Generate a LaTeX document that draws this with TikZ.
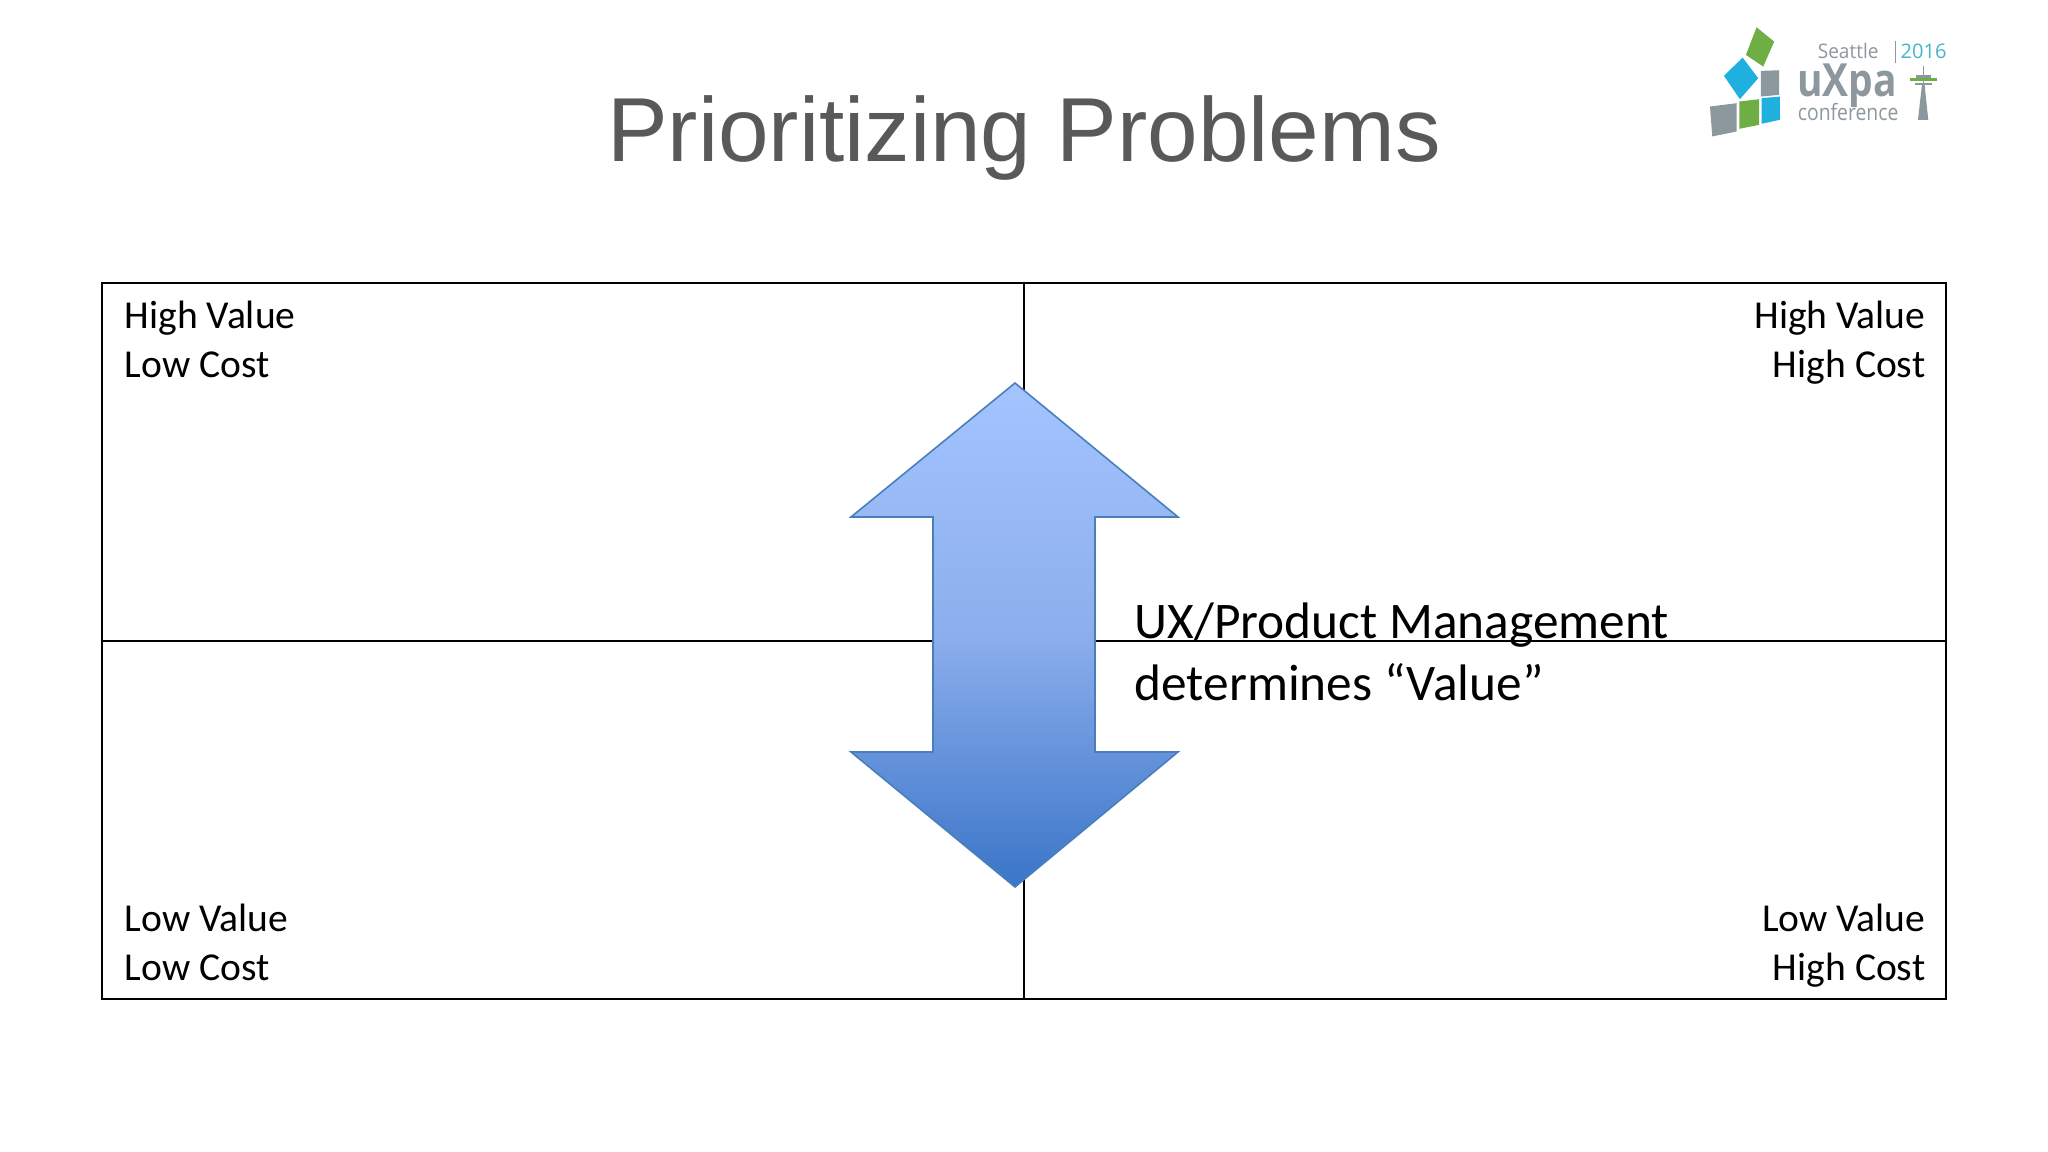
\documentclass[tikz,border=0pt]{standalone}
\usepackage{fontspec}
\setmainfont{Carlito}
\newfontfamily\titlefont{Liberation Sans}
\newfontfamily\logofont{Open Sans}
\usetikzlibrary{positioning}
\definecolor{titlegray}{HTML}{595959}
\definecolor{logogray}{HTML}{8C979E}
\definecolor{logogreen}{HTML}{6FAE45}
\definecolor{logoblue}{HTML}{1FB0E0}
\definecolor{logoteal}{HTML}{45B3CC}
\definecolor{arrowline}{HTML}{4A7EBB}
\definecolor{arrowtop}{HTML}{A3C4FF}
\definecolor{arrowmid}{HTML}{8CAEEC}
\definecolor{arrowbottom}{HTML}{3A75C8}
\begin{document}
\begin{tikzpicture}[x=0.01cm,y=-0.01cm,
 grid node/.style={draw,line width=0.7pt,inner sep=0pt,minimum width=18.43cm,minimum height=7.16cm},
 quad node/.style={font=\fontsize{11.25pt}{13.9pt}\selectfont,inner sep=0pt},
 logo text/.style={font=\logofont\fontsize{#1}{#1}\selectfont,inner sep=0pt,text=logogray}]
 \useasboundingbox (0,0) rectangle (2048,1152);
 \node (title) at (1024,138) {\titlefont\fontsize{25.85pt}{30pt}\selectfont\textcolor{titlegray}{Prioritizing Problems}};

 % quadrants
 \node[grid node] (grid) at (1024,641) {};
 \draw[line width=0.7pt] (grid.north) -- (grid.south);
 \draw[line width=0.7pt] (grid.west) -- (grid.east);
 \node[quad node,align=left,anchor=north west] (hvlc) at (124,300) {High Value\\Low Cost};
 \node[quad node,align=right,anchor=north east] (hvhc) at (1926,300) {High Value\\High Cost};
 \node[quad node,align=left,anchor=north west] (lvlc) at (124,903) {Low Value\\Low Cost};
 \node[quad node,align=right,anchor=north east] (lvhc) at (1926,903) {Low Value\\High Cost};

 % arrow
 \draw[arrowline,line width=0.45pt,top color=arrowtop,bottom color=arrowbottom,middle color=arrowmid]
   (1015,383) -- (1178,517) -- (1095,517) -- (1095,752) -- (1178,752) -- (1015,887)
   -- (851,752) -- (933,752) -- (933,517) -- (851,517) -- cycle;
 \node[anchor=north west,align=left,inner sep=0pt,font=\fontsize{14.6pt}{17.6pt}\selectfont] (value) at (1134,602) {UX/Product Management\\determines “Value”};

 % logo
 \begin{scope}[shift={(1680,10)},x=0.003333cm,y=-0.003333cm]
  \foreach \c/\p in {logogreen/{(230,52) -- (283,95) -- (250,170) -- (198,135)},
                     logoblue/{(188,143) -- (235,205) -- (180,268) -- (132,198)},
                     logogray/{(243,183) -- (298,181) -- (298,255) -- (243,260)},
                     logogray/{(90,290) -- (170,280) -- (170,365) -- (97,380)},
                     logogreen/{(178,275) -- (238,268) -- (238,345) -- (178,357)},
                     logoblue/{(245,265) -- (300,260) -- (300,330) -- (245,342)}}{
     \fill[\c] \p -- cycle;}
  \node[logo text=5.7pt,anchor=west] (seattle) at (412,123) {\scalebox{0.95}[1]{Seattle}};
  \node[logo text=5.7pt,anchor=west,text=logoteal] (year) at (661,123) {2016};
  \draw[logogray,line width=0.3pt] (648,92) -- (648,158);
  \node[logo text=13pt,anchor=west,font=\logofont\bfseries\fontsize{13pt}{13pt}\selectfont] (uxpa) at (350,228) {\scalebox{0.85}[1]{uXpa}};
  \node[logo text=6.4pt,anchor=west] (conf) at (352,308) {\scalebox{0.86}[1]{conference}};
  \fill[logogray] (715,330) -- (727,225) -- (735,225) -- (746,330) -- cycle;
  \draw[logogray,line width=0.3pt] (731,168) -- (731,225);
  \fill[logogray] (705,218) rectangle (757,226);
  \fill[logogreen] (690,204) rectangle (772,214);
  \fill[logogray] (708,196) rectangle (754,203);
 \end{scope}
\end{tikzpicture}
\end{document}
